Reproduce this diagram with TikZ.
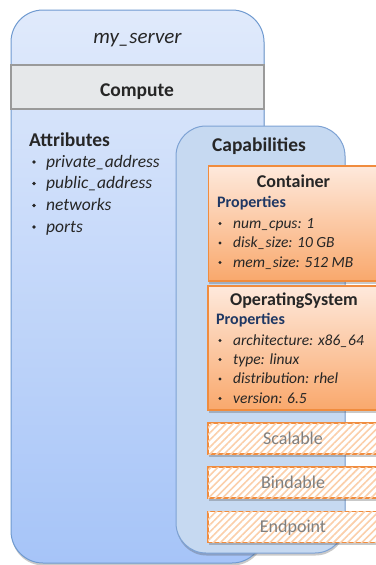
\documentclass[tikz,border=0pt]{standalone}
\usepackage{fontspec}
\setmainfont{Carlito}
\usetikzlibrary{shadows,patterns.meta}
\definecolor{outerTop}{HTML}{E0EAFB}
\definecolor{outerBot}{HTML}{A6C4F8}
\definecolor{outerLine}{HTML}{6F9AD0}
\definecolor{bandFill}{HTML}{E6E8EA}
\definecolor{bandLine}{HTML}{9A9A9A}
\definecolor{capFill}{HTML}{C6D9F1}
\definecolor{capLine}{HTML}{7DA2D4}
\definecolor{orTop}{HTML}{FEE9DC}
\definecolor{orBot}{HTML}{F9A86C}
\definecolor{orLine}{HTML}{F08C3E}
\definecolor{hatchCol}{HTML}{FBCFAA}
\definecolor{propBlue}{HTML}{1F3864}
\definecolor{txt}{HTML}{262626}
\definecolor{gtxt}{HTML}{7F7F7F}
\newcommand\setfs[1]{\fontsize{#1}{#1}\selectfont}
\tikzset{
  sh/.style={drop shadow={shadow xshift=0.5pt, shadow yshift=-2.5pt, opacity=0.3, fill=black!70}},
  outerbox/.style={draw=outerLine, line width=1pt, top color=outerTop, bottom color=outerBot,
    rounded corners=32pt, minimum width=253pt, minimum height=553pt, inner sep=0pt, sh},
  band/.style={draw=bandLine, line width=1.2pt, fill=bandFill, minimum width=253pt,
    minimum height=44pt, inner sep=0pt},
  capbox/.style={draw=capLine, line width=1pt, fill=capFill, rounded corners=30pt,
    minimum width=169pt, minimum height=427pt, inner sep=0pt, sh},
  orbox/.style={draw=orLine, line width=1.5pt, top color=orTop, bottom color=orBot,
    minimum width=170pt, inner sep=0pt, sh},
  hbox/.style={draw=orLine, line width=1.5pt, fill=white, minimum width=170pt,
    minimum height=31pt, inner sep=0pt, sh,
    postaction={pattern={Lines[angle=45,distance=5pt,line width=1.6pt]}, pattern color=hatchCol}},
  t/.style={inner sep=0pt, anchor=base, text=txt},
  tl/.style={inner sep=0pt, anchor=base west, text=txt},
  dot/.style={circle, fill=txt, inner sep=0pt, minimum size=3.6pt},
  bigb/.style={font=\setfs{19.5}\bfseries},
  item/.style={font=\setfs{17.5}\itshape},
  oitem/.style={font=\setfs{15.5}\itshape},
  prop/.style={font=\setfs{16}\bfseries, text=propBlue},
  otitle/.style={font=\setfs{18}\bfseries},
  htext/.style={font=\setfs{18}, text=gtxt},
}
\begin{document}
\begin{tikzpicture}[x=1pt,y=-1pt]
\useasboundingbox (0,0) rectangle (375,565);
% outer server box
\node[outerbox] (server) at (137.5,286.5) {};
\node[band] (band) at (137.5,87) {};
\node[t, font=\setfs{21}\itshape] (name) at (137.5,43) {my\_server};
\node[t, bigb] (compute) at (137,96) {Compute};
\node[tl, bigb] (attr) at (29,146) {Attributes};
\foreach \txtv/\yy [count=\i] in {private\_address/167, public\_address/188.5, networks/210.5, ports/232}{
  \node[dot] (ab\i) at (34,\yy-5) {};
  \node[tl, item] (a\i) at (46,\yy) {\txtv};
}
% capabilities
\node[capbox] (caps) at (260.5,339.5) {};
\node[t, bigb] (capt) at (259,151) {Capabilities};
% container
\node[orbox, minimum height=115pt] (cont) at (293.5,223.5) {};
\node[t, otitle] (contt) at (293.5,187) {Container};
\node[tl, prop] (contp) at (217,207) {Properties};
\foreach \txtv/\yy [count=\i] in {num\_cpus: 1/228, disk\_size: 10 GB/247.5, mem\_size: 512 MB/267}{
  \node[dot, minimum size=3.3pt] (cb\i) at (220,\yy-4.5) {};
  \node[tl, oitem] (c\i) at (233,\yy) {\txtv};
}
% operating system
\node[orbox, minimum height=124pt] (os) at (293,348) {};
\node[t, otitle] (ost) at (294,305) {OperatingSystem};
\node[tl, prop] (osp) at (216,324) {Properties};
\foreach \txtv/\yy [count=\i] in {architecture: x86\_64/345, type: linux/364, distribution: rhel/383.5, version: 6.5/403}{
  \node[dot, minimum size=3.3pt] (ob\i) at (220,\yy-4.5) {};
  \node[tl, oitem] (o\i) at (233,\yy) {\txtv};
}
% hatched capabilities
\node[hbox] (scal) at (293,438.5) {};
\node[t, htext] (scalt) at (293,444) {Scalable};
\node[hbox] (bind) at (293,482.5) {};
\node[t, htext] (bindt) at (293,488) {Bindable};
\node[hbox] (endp) at (293,527) {};
\node[t, htext] (endpt) at (293,532.5) {Endpoint};
\end{tikzpicture}
\end{document}
